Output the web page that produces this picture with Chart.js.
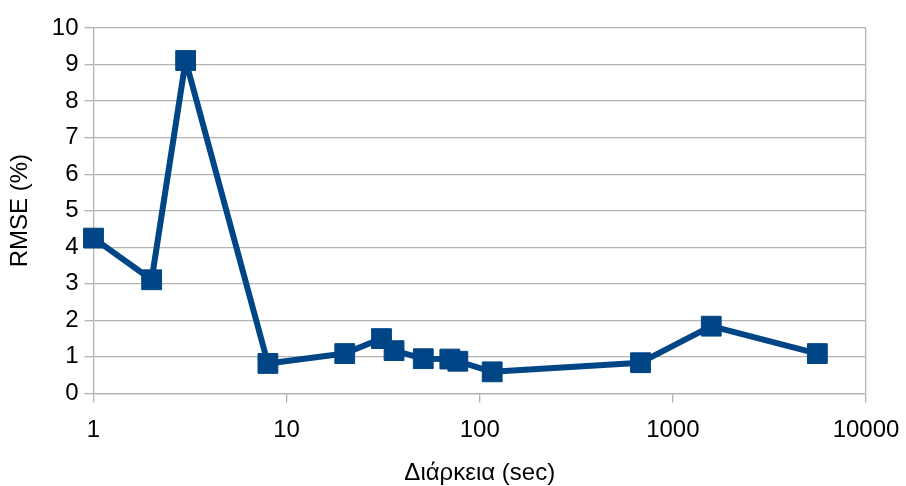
<!DOCTYPE html>
<html>
<head>
<meta charset="utf-8" />
<title>RMSE</title>
<script src="https://cdn.jsdelivr.net/npm/chart.js@4.4.0/dist/chart.umd.min.js"></script>
<style>
  html, body { margin: 0; padding: 0; background: #fff; }
  #wrap { width: 906px; height: 486px; }
</style>
</head>
<body>
<div id="wrap"><canvas id="chart"></canvas></div>
<script>
var durations = [1, 2, 3, 8, 20, 31, 36, 51, 70, 77, 116, 680, 1580, 5600];
var rmse = [4.25, 3.11, 9.11, 0.82, 1.09, 1.5, 1.17, 0.95, 0.94, 0.88, 0.59, 0.84, 1.84, 1.09];
var xTicks = [1, 10, 100, 1000, 10000];

var points = [];
for (var i = 0; i < durations.length; i++) {
  points.push({ x: durations[i], y: rmse[i] });
}

var gridGrey = '#b3b3b3';

new Chart(document.getElementById('chart'), {
  type: 'line',
  data: {
    datasets: [{
      label: 'RMSE',
      data: points,
      borderColor: '#004586',
      backgroundColor: '#004586',
      borderWidth: 6,
      borderJoinStyle: 'round',
      pointStyle: 'rect',
      pointRadius: 14,
      pointHoverRadius: 14,
      pointBorderWidth: 1,
      tension: 0,
      clip: false
    }]
  },
  options: {
    responsive: true,
    maintainAspectRatio: false,
    animation: false,
    layout: { padding: { top: 28, right: 0, left: 6, bottom: -2 } },
    plugins: { legend: { display: false }, tooltip: { enabled: false } },
    scales: {
      x: {
        type: 'logarithmic',
        min: 1,
        max: 10000,
        afterBuildTicks: function (axis) {
          axis.ticks = xTicks.map(function (v) { return { value: v }; });
        },
        afterFit: function (axis) {
          // keep the 10000 label hanging past the plot edge, as in the original
          axis.paddingRight = 40;
        },
        ticks: {
          color: '#000',
          font: { family: 'Liberation Sans', size: 24 },
          padding: 14,
          maxRotation: 0,
          callback: function (v) { return String(v); }
        },
        grid: {
          color: function (ctx) {
            return (ctx.index === xTicks.length - 1) ? gridGrey : 'rgba(0,0,0,0)';
          },
          tickColor: gridGrey,
          tickLength: 9,
          lineWidth: 1.3
        },
        border: { color: gridGrey, width: 1.3 },
        title: {
          display: true,
          text: 'Διάρκεια (sec)',
          color: '#000',
          font: { family: 'Liberation Sans', size: 24 },
          padding: { top: 0, bottom: 0 }
        }
      },
      y: {
        min: 0,
        max: 10,
        ticks: {
          stepSize: 1,
          color: '#000',
          font: { family: 'Liberation Sans', size: 24 },
          padding: 6
        },
        grid: {
          color: gridGrey,
          tickColor: gridGrey,
          tickLength: 9,
          lineWidth: 1.3
        },
        border: { color: gridGrey, width: 1.3 },
        title: {
          display: true,
          text: 'RMSE (%)',
          color: '#000',
          font: { family: 'Liberation Sans', size: 24 },
          padding: { top: 0, bottom: 11 }
        }
      }
    }
  }
});
</script>
</body>
</html>
